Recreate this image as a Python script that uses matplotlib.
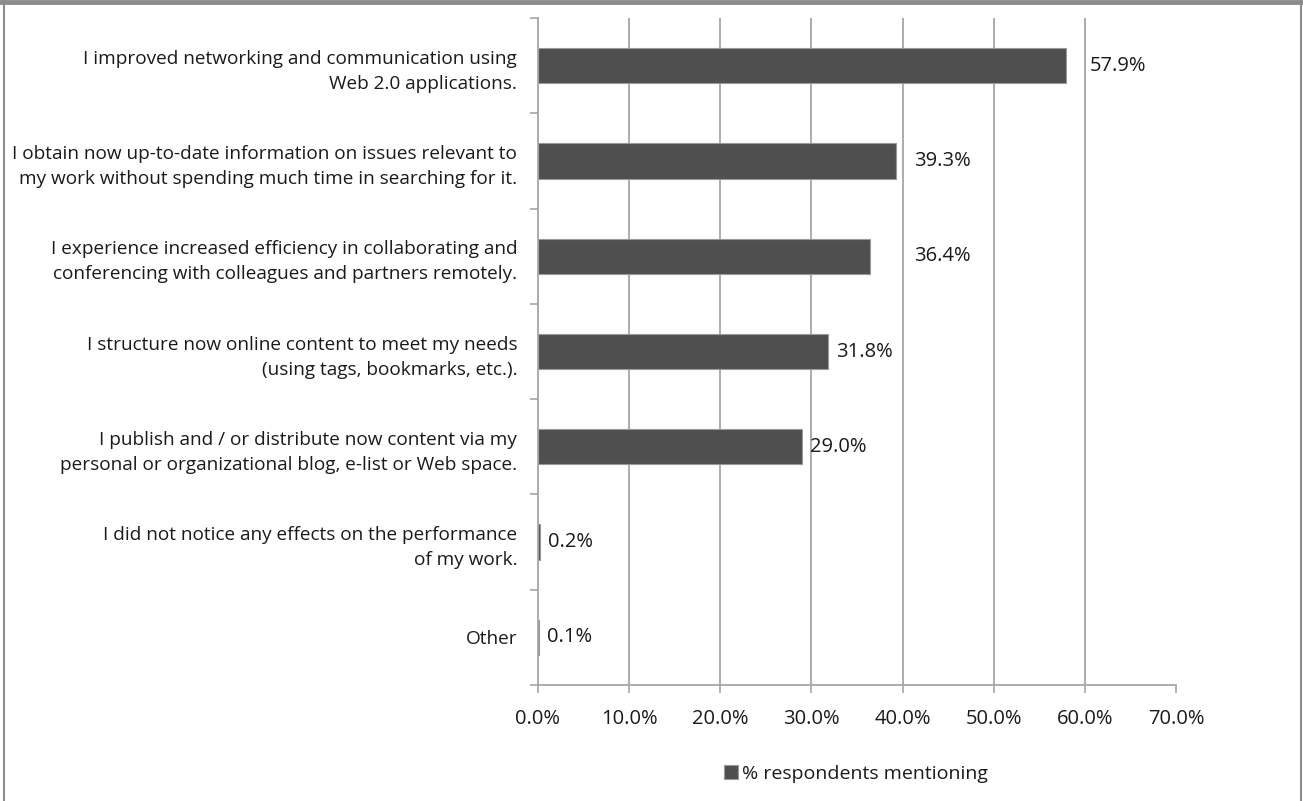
import matplotlib
matplotlib.use("Agg")
import matplotlib.pyplot as plt
import numpy as np
from matplotlib.lines import Line2D

plt.rcParams['font.family'] = ['Open Sans', 'DejaVu Sans']

# chart data, top to bottom as shown
categories = [
    "I improved networking and communication using\nWeb 2.0 applications.",
    "I obtain now up-to-date information on issues relevant to\nmy work without spending much time in searching for it.",
    "I experience increased efficiency in collaborating and\nconferencing with colleagues and partners remotely.",
    "I structure now online content to meet my needs\n(using tags, bookmarks, etc.).",
    "I publish and / or distribute now content via my\npersonal or organizational blog, e-list or Web space.",
    "I did not notice any effects on the performance\nof my work.",
    "Other",
]
values = [57.9, 39.3, 36.4, 31.8, 29.0, 0.2, 0.1]
value_labels = ["57.9%", "39.3%", "36.4%", "31.8%", "29.0%", "0.2%", "0.1%"]
label_shift_px = [24, 18, 44, 8, 8, 8, 8]
x_ticks = [0, 10, 20, 30, 40, 50, 60, 70]
series_name = "% respondents mentioning"

fig = plt.figure(figsize=(13.03, 8.01), dpi=100)
ax = fig.add_axes([538 / 1303, 1 - 685 / 801, (1176 - 538) / 1303, (685 - 18) / 801])

grid_col = '#a6a6a6'
bar_col = '#4f4f4f'
text_col = '#1a1a1a'

y = np.arange(len(categories))
ax.vlines(x_ticks[1:-1], -0.5, len(categories) - 0.5, color=grid_col, lw=1.3, zorder=1)
bars = ax.barh(y, values, height=0.37, color=bar_col, edgecolor='#9a9a9a',
               linewidth=0.8, zorder=2, label=series_name)

for yi, v, lab, dx in zip(y, values, value_labels, label_shift_px):
    ax.annotate(lab, xy=(v, yi), xytext=(dx, 0), textcoords='offset pixels',
                ha='left', va='center', fontsize=14.5, color=text_col)

ax.set_xlim(0, 70)
ax.set_ylim(len(categories) - 0.5, -0.5)
ax.set_xticks(x_ticks)
ax.set_xticklabels([f"{t:.1f}%" for t in x_ticks], fontsize=14.5, color=text_col)
ax.set_yticks(y)
ax.set_yticklabels(categories, fontsize=13.7, color=text_col, linespacing=1.5)
ax.set_yticks(np.arange(len(categories) + 1) - 0.5, minor=True)

ax.tick_params(axis='y', which='major', length=0, pad=15)
ax.tick_params(axis='y', which='minor', length=6, width=1.2, color=grid_col)
ax.tick_params(axis='x', which='major', length=6, width=1.2, color=grid_col, pad=11)

for s in ['top', 'right']:
    ax.spines[s].set_visible(False)
for s in ['left', 'bottom']:
    ax.spines[s].set_color(grid_col)
    ax.spines[s].set_linewidth(1.3)

leg = fig.legend(handles=[bars], labels=[series_name], loc='center',
                 bbox_to_anchor=(856 / 1303, 1 - 774 / 801), frameon=False,
                 fontsize=14, handlelength=0.75, handleheight=0.75, handletextpad=0.2)
for t in leg.get_texts():
    t.set_color(text_col)

# outer frame of the chart area
frame_col = '#8c8c8c'
fig.add_artist(Line2D([0, 1], [1 - 2 / 801, 1 - 2 / 801], color=frame_col, lw=3.5,
                      transform=fig.transFigure))
fig.add_artist(Line2D([4 / 1303, 4 / 1303], [0, 1], color=frame_col, lw=1.5,
                      transform=fig.transFigure))
fig.add_artist(Line2D([1301 / 1303, 1301 / 1303], [0, 1], color=frame_col, lw=1.5,
                      transform=fig.transFigure))

fig.savefig("out.png", dpi=100)
